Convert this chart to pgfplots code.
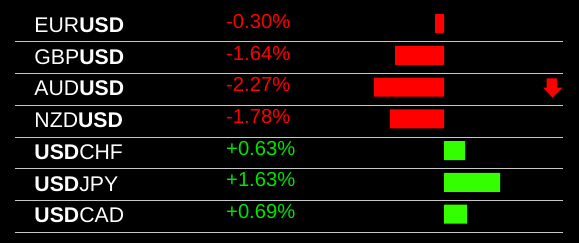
\documentclass[border=0pt]{standalone}
\usepackage{pgfplots}
\pgfplotsset{compat=1.18}
\usepackage{pgfplotstable}
\usepackage{fontspec}
\setmainfont{Liberation Sans}
\definecolor{barred}{RGB}{255,0,0}
\definecolor{bargreen}{RGB}{51,255,0}
\definecolor{txtgreen}{RGB}{0,228,0}
\definecolor{rule}{RGB}{200,200,200}
% row, change (%), bar length (in 30px units as drawn)
\pgfplotstableread{
row pct bar
0 -0.30 -0.30
1 -1.64 -1.633
2 -2.27 -2.333
3 -1.78 -1.80
}\negdata
\pgfplotstableread{
row pct bar
4 0.63 0.70
5 1.63 1.867
6 0.69 0.767
}\posdata
\begin{document}
\begin{tikzpicture}
\begin{axis}[
  width=579bp, height=243bp, scale only axis,
  xmin=-14.8, xmax=4.5,
  ymin=-0.743, ymax=6.906,
  y dir=reverse,
  hide axis,
  clip=true,
  xbar, bar width=0.598, bar shift=0pt,
]
\fill[black] (axis cs:-14.8,-0.743) rectangle (axis cs:4.5,6.906);
\draw[rule, line width=1.1bp] (axis cs:-14.3,0.573) -- (axis cs:3.967,0.573);
\draw[rule, line width=1.1bp] (axis cs:-14.3,1.573) -- (axis cs:3.967,1.573);
\draw[rule, line width=1.1bp] (axis cs:-14.3,2.573) -- (axis cs:3.967,2.573);
\draw[rule, line width=1.1bp] (axis cs:-14.3,3.573) -- (axis cs:3.967,3.573);
\draw[rule, line width=1.1bp] (axis cs:-14.3,4.573) -- (axis cs:3.967,4.573);
\draw[rule, line width=1.1bp] (axis cs:-14.3,5.573) -- (axis cs:3.967,5.573);
\draw[rule, line width=1.1bp] (axis cs:-14.3,6.573) -- (axis cs:3.967,6.573);
\addplot[draw=none, fill=barred] table[x=bar, y=row] {\negdata};
\addplot[draw=none, fill=bargreen] table[x=bar, y=row] {\posdata};
% pair names
\begin{scope}[every node/.style={anchor=base west, inner sep=0pt, text=white, font=\fontsize{21.3}{25}\selectfont}]
\node at (axis cs:-13.657,0.274) {EUR\textbf{USD}};
\node at (axis cs:-13.657,1.274) {GBP\textbf{USD}};
\node at (axis cs:-13.657,2.274) {AUD\textbf{USD}};
\node at (axis cs:-13.657,3.274) {NZD\textbf{USD}};
\node at (axis cs:-13.657,4.274) {\textbf{USD}CHF};
\node at (axis cs:-13.657,5.274) {\textbf{USD}JPY};
\node at (axis cs:-13.657,6.274) {\textbf{USD}CAD};
\end{scope}
% percentages
\begin{scope}[every node/.style={anchor=base west, inner sep=0pt, font=\fontsize{20.3}{24}\selectfont}]
\node[text=barred] at (axis cs:-7.267,0.146) {-0.30\%};
\node[text=barred] at (axis cs:-7.267,1.146) {-1.64\%};
\node[text=barred] at (axis cs:-7.267,2.146) {-2.27\%};
\node[text=barred] at (axis cs:-7.267,3.146) {-1.78\%};
\node[text=txtgreen] at (axis cs:-7.267,4.140) {+0.63\%};
\node[text=txtgreen] at (axis cs:-7.267,5.140) {+1.63\%};
\node[text=txtgreen] at (axis cs:-7.267,6.140) {+0.69\%};
\end{scope}
% down arrow on AUDUSD
\fill[barred] (axis cs:3.417,1.722) -- (axis cs:3.767,1.722) -- (axis cs:3.767,2.018)
  -- (axis cs:3.943,2.018) -- (axis cs:3.617,2.332) -- (axis cs:3.31,2.018)
  -- (axis cs:3.417,2.018) -- cycle;
\end{axis}
\end{tikzpicture}
\end{document}
